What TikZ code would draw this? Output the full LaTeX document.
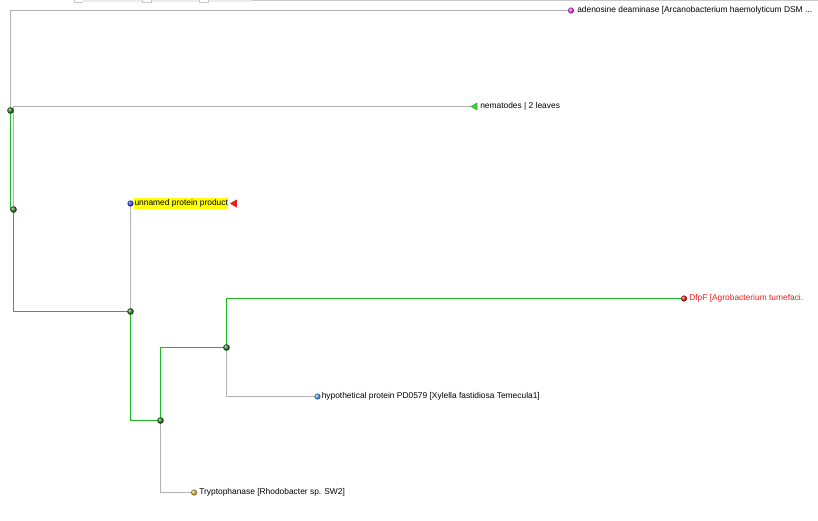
\documentclass[tikz,border=0pt]{standalone}
\usepackage{fontspec}
\setmainfont{Liberation Sans}
\usetikzlibrary{shapes.geometric,backgrounds}
\definecolor{edgegray}{RGB}{178,178,178}
\definecolor{edgegreen}{RGB}{30,185,30}
\definecolor{nodegreen}{RGB}{40,120,40}
\definecolor{tabgray}{RGB}{236,236,236}
\definecolor{taboutline}{RGB}{200,200,200}
\definecolor{leafmag}{RGB}{255,60,255}
\definecolor{leafblue}{RGB}{50,60,235}
\definecolor{leafred}{RGB}{235,30,30}
\definecolor{leaflblue}{RGB}{80,160,250}
\definecolor{leafgold}{RGB}{220,185,70}
\definecolor{hlyellow}{RGB}{255,255,0}
\definecolor{nemgreen}{RGB}{60,210,60}
\begin{document}
\begin{tikzpicture}[x=0.75pt,y=-0.75pt,
  inode/.style={circle,inner sep=0pt,minimum size=5pt,shading=ball,ball color=nodegreen},
  leafdot/.style={circle,inner sep=0pt,minimum size=4.6pt,shading=ball,ball color=#1},
  lbl/.style={anchor=west,inner sep=0pt,text height=4.8pt,text depth=1.4pt,font=\fontsize{6.3}{7}\selectfont},
  gline/.style={draw=edgegray,line width=0.75pt},
  grline/.style={draw=edgegreen,line width=0.75pt}]
\useasboundingbox (0,0) rectangle (818,521);
% tab bar at the top
\fill[tabgray] (83,0) rectangle (142,2.2);
\fill[tabgray] (151,0) rectangle (199,2.2);
\fill[tabgray] (208,0) rectangle (252,2.2);
\draw[taboutline,line width=0.6pt] (74,0) -- (74,2) -- (83,2);
\draw[taboutline,line width=0.6pt] (142,0) -- (142,2) -- (151,2) -- (151,0);
\draw[taboutline,line width=0.6pt] (199,0) -- (199,2) -- (208,2) -- (208,0);
\draw[taboutline,line width=0.8pt] (252,0.8) -- (818,0.8);
% internal nodes
\node[inode] (A) at (10.5,110.5) {};
\node[inode] (B) at (13.5,209.5) {};
\node[inode] (C) at (130.5,311.5) {};
\node[inode] (D) at (160.5,420.5) {};
\node[inode] (E) at (226.5,347.5) {};
% leaves
\node[leafdot=leafmag] (ad) at (571,10.5) {};
\node[regular polygon,regular polygon sides=3,shape border rotate=90,inner sep=0pt,minimum size=6pt,fill=nemgreen,draw=edgegreen,line width=0.4pt] (nem) at (475,106.5) {};
\node[leafdot=leafblue] (un) at (130.5,203.5) {};
\node[leafdot=leafred] (dfpf) at (684,298.5) {};
\node[leafdot=leaflblue] (hyp) at (317.5,396.5) {};
\node[leafdot=leafgold] (try) at (194,492.5) {};
% labels
\node[lbl] (adl) at (577,10.5) {adenosine deaminase [Arcanobacterium haemolyticum DSM ...};
\node[lbl] (neml) at (480,106.5) {nematodes | 2 leaves};
\node[lbl,fill=hlyellow,inner xsep=0.2pt,inner ysep=1.3pt] (unl) at (134,203.5) {unnamed protein product};
\node[regular polygon,regular polygon sides=3,shape border rotate=90,inner sep=0pt,minimum size=7pt,fill=leafred] (unmark) at (234.5,203.5) {};
\node[lbl,text=leafred] (dfpfl) at (689,298.5) {DfpF [Agrobacterium tumefaci.};
\node[lbl] (hypl) at (321.5,396.5) {hypothetical protein PD0579 [Xylella fastidiosa Temecula1]};
\node[lbl] (tryl) at (199,492.5) {Tryptophanase [Rhodobacter sp. SW2]};
% connectors
\begin{scope}[on background layer]
\draw[gline] (A.center) |- (ad.center);
\draw[gline] (B.center) |- (nem.center);
\draw[grline] (A.center) |- (B.center);
\draw[grline] (B.center) |- (C.center);
\draw[gline] (C.center) -- (un.center);
\draw[grline] (C.center) |- (D.center);
\draw[gline] (D.center) |- (try.center);
\draw[grline] (D.center) |- (E.center);
\draw[grline] (E.center) |- (dfpf.center);
\draw[gline] (E.center) |- (hyp.center);
\end{scope}
\end{tikzpicture}
\end{document}
